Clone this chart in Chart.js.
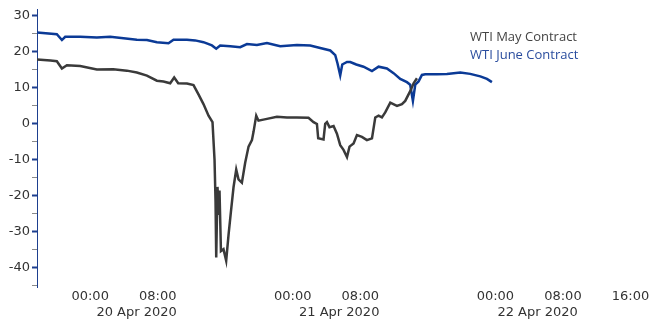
<!DOCTYPE html>
<html>
<head>
<meta charset="utf-8">
<script src="https://cdn.jsdelivr.net/npm/chart.js@4/dist/chart.umd.min.js"></script>
<style>
  html, body { margin: 0; padding: 0; background: #fff; }
  #wrap { width: 668px; height: 332px; position: relative; }
</style>
</head>
<body>
<div id="wrap"><canvas id="myChart"></canvas></div>
<script>
// WTI May vs June contract, hours counted from 20 Apr 2020 00:00

const mayHours = [-6.3, -4.7, -3.95, -3.35, -2.76, -1.18, 0.79, 2.73, 4.35, 5.53, 6.72, 7.9, 8.68, 9.48, 9.95, 10.43,
    11.46, 12.24, 12.83, 13.42, 14.02, 14.49, 14.73, 14.85, 14.93, 15.08, 15.25, 15.32, 15.49, 15.79, 16.11, 16.39,
    16.67, 16.98, 17.3, 17.57, 17.97, 18.36, 18.76, 19.16, 19.35, 19.67, 19.94, 20.94, 22.12, 23.31, 24.49, 25.86,
    26.46, 26.86, 27.01, 27.64, 27.84, 28.05, 28.35, 28.83, 29.23, 29.62, 30.01, 30.42, 30.72, 31.2, 31.6, 32.19,
    32.78, 33.38, 33.77, 34.16, 34.56, 34.95, 35.55, 36.34, 36.93, 37.32, 37.91, 38.31, 38.71];
const mayPrices = [17.7, 17.4, 17.2, 15.2, 16.1, 15.9, 14.9, 15.0, 14.6, 14.1, 13.2, 11.8, 11.6, 11.1, 12.7, 11.1,
    11.0, 10.6, 8.0, 5.3, 2.1, 0.3, -10.1, -21.8, -37.3, -17.7, -25.5, -18.7, -35.5, -35.0, -38.2, -31.0,
    -24.6, -17.8, -12.9, -15.6, -16.5, -11.0, -6.5, -4.7, -2.4, 2.1, 0.7, 1.2, 1.8, 1.6, 1.6, 1.5,
    0.3, -0.2, -4.2, -4.5, -0.2, 0.3, -1.1, -0.8, -2.9, -6.1, -7.4, -9.4, -6.5, -5.6, -3.3, -3.8,
    -4.7, -4.2, 1.6, 2.1, 1.6, 3.0, 5.7, 4.8, 5.3, 6.2, 8.9, 11.1, 12.5];

const juneHours = [-6.3, -3.95, -3.35, -2.96, -1.18, 0.79, 2.37, 3.95, 5.53, 6.72, 7.9, 9.28, 9.87, 11.46, 12.44, 13.42,
    14.42, 14.93, 15.4, 16.59, 17.77, 18.57, 19.75, 20.94, 22.51, 24.49, 26.07, 27.25, 28.44, 29.03, 29.3, 29.62,
    29.86, 30.42, 30.81, 31.52, 32.38, 33.38, 34.16, 35.15, 35.94, 36.73, 37.52, 37.91, 38.23, 38.51, 38.9, 39.3,
    39.69, 41.08, 42.26, 43.84, 45.02, 46.21, 47.0, 47.59];
const junePrices = [25.2, 24.7, 23.1, 24.0, 24.0, 23.8, 24.0, 23.6, 23.2, 23.1, 22.5, 22.2, 23.2, 23.2, 23.0, 22.5,
    21.6, 20.7, 21.6, 21.4, 21.1, 22.0, 21.7, 22.3, 21.4, 21.7, 21.6, 20.9, 20.2, 18.9, 16.6, 13.3,
    16.3, 17.0, 17.0, 16.3, 15.7, 14.5, 15.7, 15.2, 13.9, 12.3, 11.4, 10.7, 6.2, 10.7, 11.6, 13.4,
    13.6, 13.6, 13.7, 14.1, 13.7, 13.0, 12.3, 11.4];

const timeTicks = [0, 8, 24, 32, 48, 56, 64];          // hour ticks on the x axis
const dateTicks = [5.5, 29.5, 53];                      // where the date labels sit
const dateLabels = ['20 Apr 2020', '21 Apr 2020', '22 Apr 2020'];
const yTicks = [-45, -40, -35, -30, -25, -20, -15, -10, -5, 0, 5, 10, 15, 20, 25, 30];

const xMin = -6.3, xMax = 67.5;
const axisBlue = '#1d3f8f';

// legend drawn as plain text in the top right of the plot
const textLegend = {
    id: 'textLegend',
    afterDraw(chart, args, opts) {
        const ctx = chart.ctx;
        ctx.save();
        ctx.font = '13px "Open Sans"';
        ctx.textBaseline = 'middle';
        chart.data.datasets.forEach((ds, i) => {
            ctx.fillStyle = opts.colors[i];
            ctx.fillText(ds.label, opts.x, opts.y + i * opts.lineGap);
        });
        ctx.restore();
    }
};

function toPoints(xs, ys) {
    return xs.map((x, i) => ({x: x, y: ys[i]}));
}

const ctx = document.getElementById('myChart');
new Chart(ctx, {
    type: 'line',
    data: {
        datasets: [{
            label: 'WTI May Contract',
            data: toPoints(mayHours, mayPrices),
            borderColor: '#3a3a3a',
            borderWidth: 2.5,
            pointRadius: 0,
            tension: 0
        },
        {
            label: 'WTI June Contract',
            data: toPoints(juneHours, junePrices),
            borderColor: '#0b3a96',
            borderWidth: 2.5,
            pointRadius: 0,
            tension: 0
        }]
    },
    options: {
        responsive: true,
        maintainAspectRatio: false,
        animation: false,
        layout: {
            padding: {top: 9, right: 8, bottom: 0, left: 0}
        },
        scales: {
            x: {
                type: 'linear',
                min: xMin,
                max: xMax,
                weight: 0,
                grid: {display: false, drawTicks: false},
                border: {display: false},
                afterBuildTicks: (scale) => { scale.ticks = timeTicks.map(v => ({value: v})); },
                afterFit: (scale) => { scale.height = 16; },
                ticks: {
                    padding: 2,
                    maxRotation: 0,
                    autoSkip: false,
                    color: '#333',
                    font: {family: 'DejaVu Sans', size: 13},
                    callback: (v) => String(((v % 24) + 24) % 24).padStart(2, '0') + ':00'
                }
            },
            xDate: {
                type: 'linear',
                position: 'bottom',
                min: xMin,
                max: xMax,
                weight: 1,
                grid: {display: false, drawTicks: false},
                border: {display: false},
                afterBuildTicks: (scale) => { scale.ticks = dateTicks.map(v => ({value: v})); },
                afterFit: (scale) => { scale.height = 29; },
                ticks: {
                    padding: 2,
                    maxRotation: 0,
                    autoSkip: false,
                    color: '#333',
                    font: {family: 'DejaVu Sans', size: 13},
                    callback: (v, i) => dateLabels[i]
                }
            },
            y: {
                min: -45.5,
                max: 31.5,
                afterFit: (scale) => { scale.width = 37; },
                afterBuildTicks: (scale) => { scale.ticks = yTicks.map(v => ({value: v})); },
                grid: {
                    drawOnChartArea: false,
                    drawTicks: true,
                    tickLength: 5,
                    tickColor: (c) => (c.tick && c.tick.value % 10 === 0) ? axisBlue : '#8a8a8a',
                    tickWidth: (c) => (c.tick && c.tick.value % 10 === 0) ? 2 : 1
                },
                border: {display: true, color: axisBlue, width: 1},
                ticks: {
                    padding: 2,
                    autoSkip: false,
                    color: '#333',
                    font: {family: 'DejaVu Sans', size: 13},
                    callback: (v) => (v % 10 === 0 ? String(v) : '')
                }
            }
        },
        plugins: {
            legend: {display: false},
            tooltip: {enabled: false},
            textLegend: {x: 470, y: 37, lineGap: 18, colors: ['#444444', '#2a4d9e']}
        }
    },
    plugins: [textLegend]
});
</script>
</body>
</html>
